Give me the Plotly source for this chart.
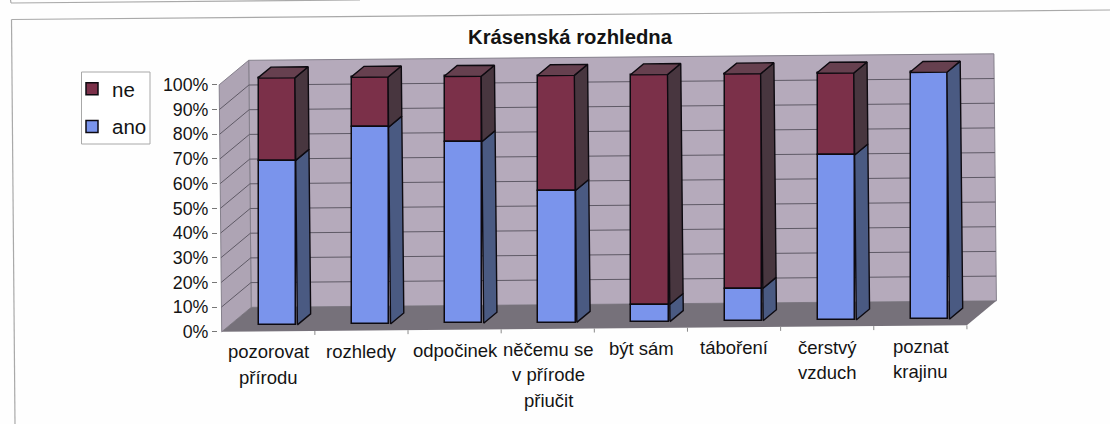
import plotly.graph_objects as go

# ---- data ----
categories = [["pozorovat", "přírodu"], ["rozhledy"], ["odpočinek"],
              ["něčemu se", "v přírode", "přiučit"], ["být sám"], ["táboření"],
              ["čerstvý", "vzduch"], ["poznat", "krajinu"]]
ano = [66.6, 79.7, 73.5, 53.4, 6.9, 13.1, 66.8, 100.0]
ne = [33.4, 20.3, 26.5, 46.6, 93.1, 86.9, 33.2, 0.0]
y_ticks = [0, 10, 20, 30, 40, 50, 60, 70, 80, 90, 100]
y_tick_text = [f"{v}%" for v in y_ticks]
title = "Krásenská rozhledna"

# ---- oblique 3-D look (scan is slightly rotated): pixels per unit ----
W, H = 1110, 424
PL, PR, PT, PB = 218, 1000, 50, 336   # plot area in pixels
UX, UY = 93.15, 2.47                  # px per category, px per percent
RISE = 0.81 / UY                      # percent of rise per category
LEAN = -2.5 / 100 / UX                # categories of lean per percent
DEPTH_X, DEPTH_Y = 29.5 / UX, 24.5 / UY
ORIGIN_PX, ORIGIN_PY = 221.7, 331.8

BAR_D0, BAR_D1 = 0.26, 0.71
BAR_W = 0.40
BAR_SHIFT = 0.03


def P(c, v, d=0.0):
    """Category / percent / depth -> sheared axis coordinates."""
    return (c + v * LEAN + d * DEPTH_X, v + c * RISE + d * DEPTH_Y)


def path(points):
    pts = [P(*p) for p in points]
    return "M " + " L ".join(f"{x:.4f},{y:.4f}" for x, y in pts) + " Z"


def seg(a, b, color, width=1.0, layer="below"):
    (x0, y0), (x1, y1) = P(*a), P(*b)
    return dict(type="line", xref="x", yref="y", x0=x0, y0=y0, x1=x1, y1=y1,
                line=dict(color=color, width=width), layer=layer)


def paper_x(px):
    return (px - PL) / (PR - PL)


def paper_y(py):
    return (PB - py) / (PB - PT)


N = len(categories)
WALL, SIDE, FLOOR, GRID = "#b5aabb", "#aea4b4", "#76717a", "#5f5a66"
ANO_F, ANO_S = "#7a94ec", "#4a5a82"
NE_F, NE_S, NE_T = "#7b3049", "#48363f", "#66404f"
EDGE = "#0d0a10"

shapes = [
    dict(type="path", xref="x", yref="y", layer="below", path=path([(0, 0, 1), (N, 0, 1), (N, 100, 1), (0, 100, 1)]),
         fillcolor=WALL, line=dict(color="#85808c", width=1)),
    dict(type="path", xref="x", yref="y", layer="below", path=path([(0, 0, 0), (0, 0, 1), (0, 100, 1), (0, 100, 0)]),
         fillcolor=SIDE, line=dict(color="#85808c", width=1)),
    dict(type="path", xref="x", yref="y", layer="below", path=path([(0, 0, 0), (N, 0, 0), (N, 0, 1), (0, 0, 1)]),
         fillcolor=FLOOR, line=dict(color=FLOOR, width=0)),
]
for v in y_ticks[1:-1]:
    shapes.append(seg((0, v, 0), (0, v, 1), GRID))
    shapes.append(seg((0, v, 1), (N, v, 1), GRID))
for i in range(1, N + 1):
    shapes.append(seg((i, 0, 0), (i, -1.6, 0), "#8a8a8a"))


# scan frame lines and legend box, outside the chart
def frame(x0, y0, x1, y1, color="#a9a9a9"):
    return dict(type="line", xref="paper", yref="paper", layer="above",
                x0=paper_x(x0), x1=paper_x(x1), y0=paper_y(y0), y1=paper_y(y1),
                line=dict(color=color, width=1.2))


shapes += [frame(11.5, 19.5, 1110, 10), frame(11.5, 19.5, 15, 424),
           frame(10.5, 0, 11, 3), frame(11, 3, 360, 0)]
shapes.append(dict(type="rect", xref="paper", yref="paper", layer="below",
                   x0=paper_x(81.5), x1=paper_x(150), y0=paper_y(72), y1=paper_y(144),
                   fillcolor="#ffffff", line=dict(color="#a8a8a8", width=1)))

fig = go.Figure()

# real stacked bars for the front faces
xc = [P(i + 0.5 + BAR_SHIFT, 50, BAR_D0)[0] for i in range(N)]
base0 = [P(i + 0.5 + BAR_SHIFT, 0, BAR_D0)[1] for i in range(N)]
fig.add_bar(name="ne", legendgroup="ne", x=xc, y=ne, base=[b + a for b, a in zip(base0, ano)], width=BAR_W,
            marker=dict(color=NE_F, line=dict(color=EDGE, width=1.5)))
fig.add_bar(name="ano", legendgroup="ano", x=xc, y=ano, base=base0, width=BAR_W,
            marker=dict(color=ANO_F, line=dict(color=EDGE, width=1.5)))


def face(points, color):
    pts = [P(*p) for p in points]
    fig.add_scatter(x=[p[0] for p in pts] + [pts[0][0]], y=[p[1] for p in pts] + [pts[0][1]],
                    mode="lines", fill="toself", fillcolor=color, showlegend=False, hoverinfo="skip",
                    line=dict(color=EDGE, width=1.4))


for i in range(N):
    r = i + 0.5 + BAR_SHIFT + BAR_W / 2
    l = i + 0.5 + BAR_SHIFT - BAR_W / 2
    a = ano[i]
    t = a + ne[i]
    face([(r, 0, BAR_D0), (r, a, BAR_D0), (r, a, BAR_D1), (r, 0, BAR_D1)], ANO_S)
    if ne[i] > 0:
        face([(r, a, BAR_D0), (r, t, BAR_D0), (r, t, BAR_D1), (r, a, BAR_D1)], NE_S)
    face([(l, t, BAR_D0), (r, t, BAR_D0), (r, t, BAR_D1), (l, t, BAR_D1)], NE_T)

# category labels follow the tilted floor edge, line by line
annotations = []
LINE_H, FIRST = 25.5, 20.5
for i, lines in enumerate(categories):
    x, y = P(i + 0.5, 0, 0)
    for j, text in enumerate(lines):
        annotations.append(dict(x=x + 0.005, y=y, xref="x", yref="y", text=text, showarrow=False,
                                xanchor="center", yanchor="middle", yshift=-(FIRST + j * LINE_H),
                                font=dict(size=18.5, color="#141414", family="Liberation Sans")))

fig.update_layout(
    width=W, height=H, autosize=False,
    margin=dict(l=PL, r=W - PR, t=PT, b=H - PB),
    paper_bgcolor="#fefefe", plot_bgcolor="rgba(0,0,0,0)",
    barmode="overlay", bargap=0,
    shapes=shapes, annotations=annotations,
    font=dict(family="Liberation Sans", color="#141414"),
    title=dict(text=f"<b>{title}</b>", x=570 / W, xanchor="center", y=1 - 37 / H, yanchor="middle",
               font=dict(size=20.3, family="Liberation Sans", color="#141414")),
    legend=dict(x=paper_x(72), y=paper_y(69), xanchor="left", yanchor="top",
                traceorder="grouped", tracegroupgap=8, bgcolor="rgba(0,0,0,0)", borderwidth=0,
                font=dict(size=20.5, family="Liberation Sans", color="#141414"), itemwidth=30),
    xaxis=dict(range=[(PL - ORIGIN_PX) / UX, (PR - ORIGIN_PX) / UX], visible=False, fixedrange=True),
    yaxis=dict(range=[(ORIGIN_PY - PB) / UY, (ORIGIN_PY - PT) / UY], tickvals=y_ticks, ticktext=y_tick_text,
               ticks="outside", ticklen=5, tickcolor="#777777", showgrid=False, zeroline=False, showline=False,
               tickfont=dict(size=17.8, family="Liberation Sans", color="#141414"), fixedrange=True),
)

fig.write_html("out.html", config={"displayModeBar": False},
               post_script="document.body.style.margin='0';document.body.style.overflow='hidden';")
